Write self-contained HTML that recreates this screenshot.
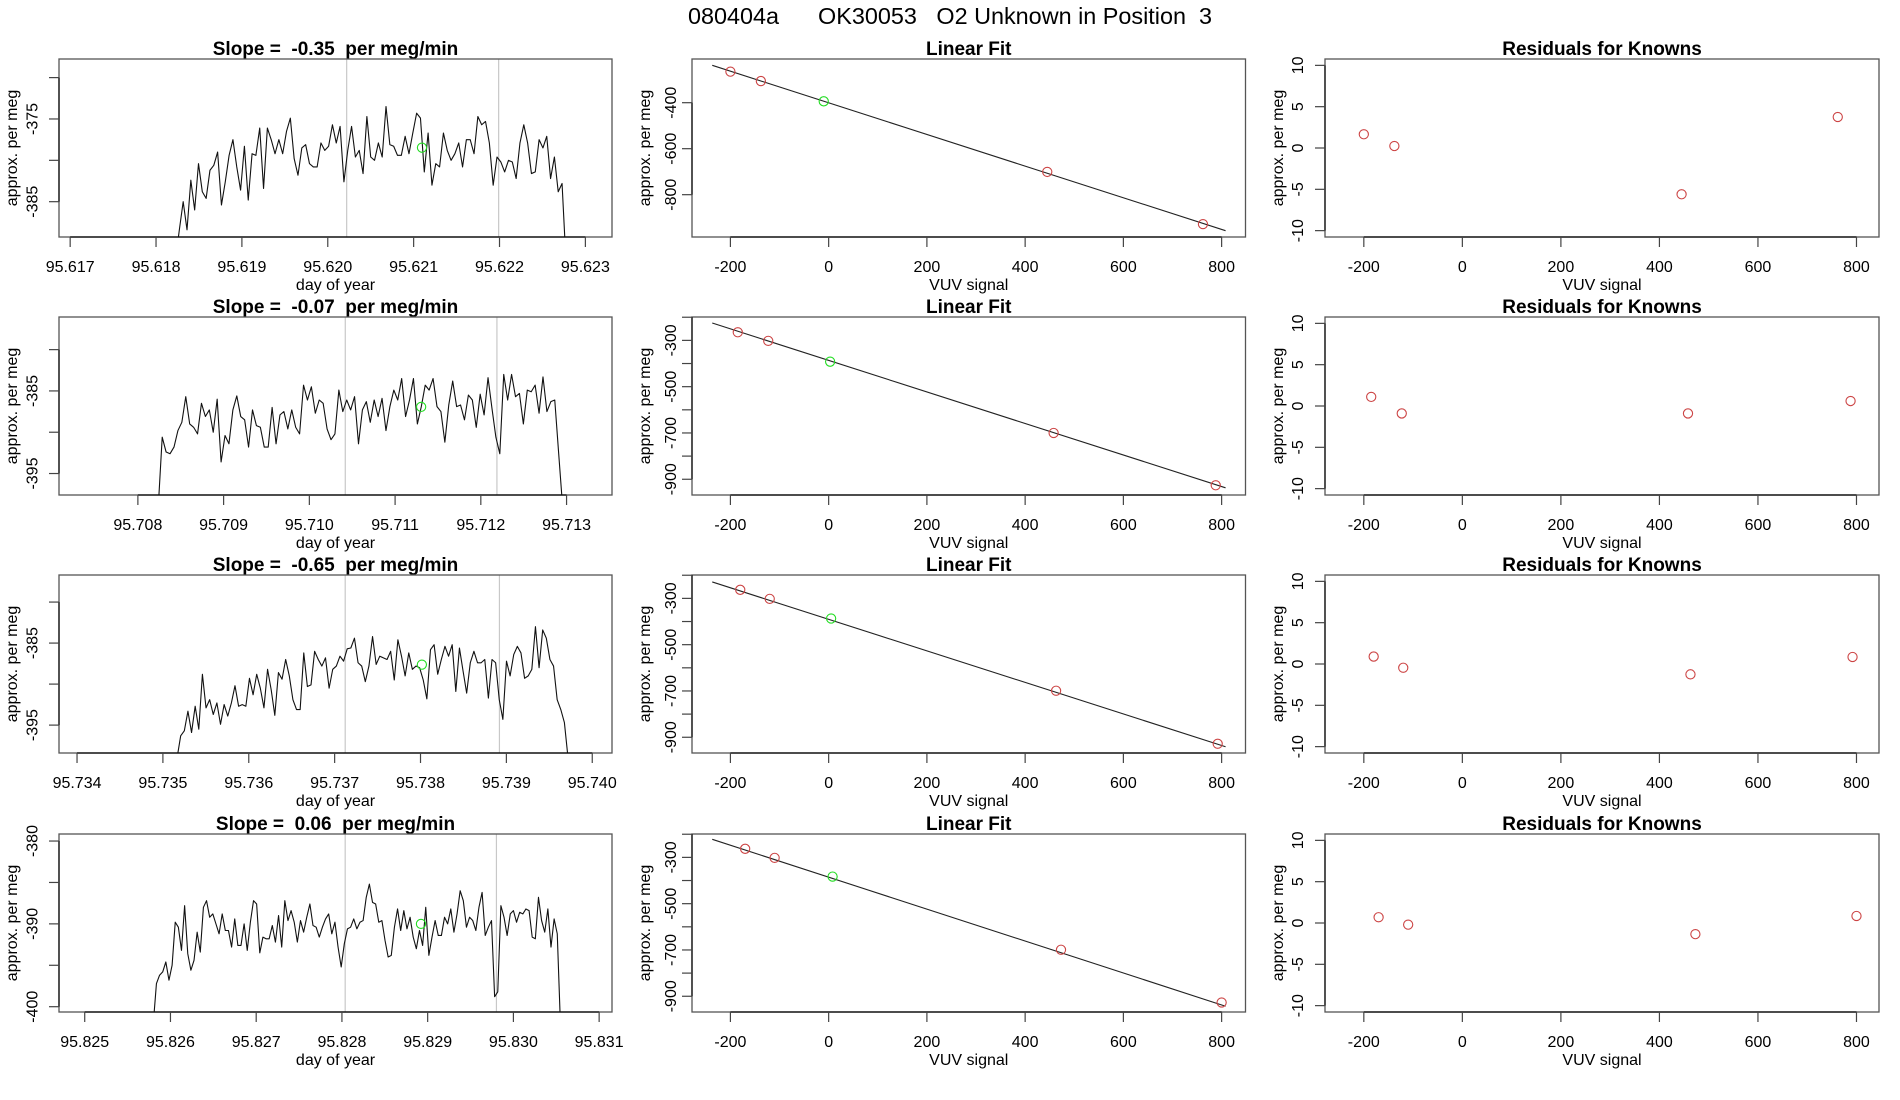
<!DOCTYPE html>
<html><head><meta charset="utf-8"><title>080404a OK30053 O2 Unknown in Position 3</title>
<style>
html,body{margin:0;padding:0;background:#fff;}
svg{display:block;font-family:"Liberation Sans",Arial,sans-serif;}
text{white-space:pre;}
</style></head>
<body>
<svg id="fig" width="1900" height="1100" viewBox="0 0 1900 1100" xmlns="http://www.w3.org/2000/svg">
<rect x="0" y="0" width="1900" height="1100" fill="#fff"/>
<text x="950" y="24" font-size="23.4" text-anchor="middle" fill="#000" xml:space="preserve">080404a      OK30053   O2 Unknown in Position  3</text>
</svg>
<script>
// ---------- time-series data (per meg) ----------
const tsTitles = ['Slope =  -0.35  per meg/min','Slope =  -0.07  per meg/min','Slope =  -0.65  per meg/min','Slope =  0.06  per meg/min'];
const tsXTicks1 = [95.617,95.618,95.619,95.620,95.621,95.622,95.623];
const tsXTicks2 = [95.708,95.709,95.710,95.711,95.712,95.713];
const tsXTicks3 = [95.734,95.735,95.736,95.737,95.738,95.739,95.740];
const tsXTicks4 = [95.825,95.826,95.827,95.828,95.829,95.830,95.831];
const tsYTicks1 = [-370,-375,-380,-385];
const tsYLabels1 = ['','-375','','-385'];
const tsYTicks2 = [-380,-385,-390,-395];
const tsYLabels2 = ['','-385','','-395'];
const tsYTicks3 = [-380,-385,-390,-395];
const tsYLabels3 = ['','-385','','-395'];
const tsYTicks4 = [-380,-385,-390,-395,-400];
const tsYLabels4 = ['-380','','-390','','-400'];
const tsXDomain1 = [95.61687,95.62331];
const tsXDomain2 = [95.70708,95.71353];
const tsXDomain3 = [95.73379,95.74023];
const tsXDomain4 = [95.82470,95.83115];
const tsYDomain1 = [-389.27,-367.75];
const tsYDomain2 = [-397.6,-376.05];
const tsYDomain3 = [-398.4,-376.7];
const tsYDomain4 = [-400.64,-379.15];
const tsRange1 = [95.618227,95.622773];
const tsRange2 = [95.708238,95.712954];
const tsRange3 = [95.735165,95.739718];
const tsRange4 = [95.825800,95.830548];
const tsMarks1 = [95.62022,95.62199];
const tsMarks2 = [95.710419,95.712188];
const tsMarks3 = [95.737123,95.738919];
const tsMarks4 = [95.828038,95.829802];
const tsUnknown1 = [95.621097,-378.47];
const tsUnknown2 = [95.711304,-386.93];
const tsUnknown3 = [95.738016,-387.63];
const tsUnknown4 = [95.828922,-390.0];
const tsVals1 = [-392,-388.4,-385.0,-388.4,-382.4,-386.0,-380.4,-383.8,-384.6,-381.2,-380.6,-379.0,-385.4,-382.6,-379.4,-377.5,-380.8,-383.6,-378.3,-384.8,-379.2,-379.4,-376.1,-383.4,-376.1,-377.5,-379.2,-377.5,-379.2,-376.5,-374.9,-379.8,-381.8,-378.5,-378.1,-380.4,-380.8,-380.8,-377.9,-378.8,-378.3,-375.7,-377.9,-375.9,-382.6,-378.8,-375.9,-379.6,-378.8,-381.6,-374.7,-379.6,-380.0,-377.9,-379.6,-373.5,-378.1,-378.3,-379.4,-379.4,-377.1,-379.2,-376.7,-374.3,-374.9,-381.4,-376.7,-383.0,-380.4,-380.8,-376.7,-378.8,-380.0,-379.2,-377.9,-380.8,-377.5,-377.5,-379.2,-374.7,-375.7,-375.3,-377.9,-383.0,-379.6,-380.2,-381.4,-380.0,-380.2,-382.2,-377.9,-375.7,-377.9,-381.6,-381.4,-377.5,-378.5,-377.1,-382.2,-379.6,-383.8,-382.8,-392];
const tsVals2 = [-399,-390.6,-392.4,-392.6,-391.8,-389.8,-388.8,-385.7,-389.0,-389.4,-390.2,-386.5,-388.1,-387.3,-390.0,-386.0,-393.6,-390.4,-391.4,-387.3,-385.6,-388.1,-388.5,-391.8,-387.3,-389.2,-389.4,-391.8,-391.8,-387.0,-391.4,-387.9,-387.5,-389.6,-387.3,-389.4,-390.2,-384.3,-386.1,-384.5,-387.7,-386.1,-386.5,-389.6,-390.9,-390.2,-384.9,-387.5,-386.1,-387.3,-385.7,-391.4,-387.3,-386.3,-388.8,-386.1,-388.1,-385.9,-389.8,-386.9,-384.9,-386.1,-383.5,-388.1,-386.1,-383.5,-389.0,-386.9,-384.3,-384.9,-383.5,-386.9,-387.5,-391.2,-386.7,-383.8,-386.9,-386.7,-388.5,-385.5,-386.1,-389.4,-385.4,-387.9,-383.4,-387.1,-390.6,-392.6,-383.0,-386.1,-383.0,-385.7,-385.3,-389.0,-384.9,-385.1,-384.3,-387.7,-383.3,-387.5,-386.3,-386.1,-392.6,-399];
const tsVals3 = [-399,-396.3,-395.7,-393.3,-395.9,-392.7,-395.5,-388.8,-392.9,-391.9,-393.7,-392.3,-394.9,-392.5,-393.9,-392.3,-390.2,-392.7,-392.5,-392.7,-389.3,-391.3,-388.8,-390.5,-392.9,-388.2,-390.7,-393.8,-388.6,-389.4,-387.0,-389.0,-391.9,-393.1,-393.1,-386.2,-390.3,-390.1,-386.0,-387.0,-387.8,-386.8,-390.5,-388.2,-387.8,-386.6,-387.2,-385.7,-385.6,-384.4,-387.4,-387.8,-389.7,-387.8,-384.2,-387.6,-386.6,-386.8,-387.0,-386.0,-389.5,-384.6,-386.6,-389.0,-386.2,-388.2,-387.8,-388.0,-389.5,-391.8,-385.8,-385.2,-388.8,-387.0,-385.4,-386.6,-385.2,-390.9,-385.6,-388.4,-391.1,-387.4,-386.0,-387.4,-387.4,-387.0,-391.7,-387.0,-387.4,-391.9,-394.3,-387.2,-389.0,-386.4,-385.4,-386.2,-389.3,-389.0,-388.2,-383.0,-388.0,-383.4,-384.4,-387.0,-387.8,-391.9,-393.1,-394.7,-399];
const tsVals4 = [-402,-397.2,-396.2,-395.8,-394.6,-396.8,-395.0,-389.8,-390.4,-393.2,-387.8,-393.6,-395.6,-394.4,-391.0,-393.4,-388.0,-387.2,-389.2,-388.8,-390.0,-391.2,-388.8,-390.8,-390.8,-392.8,-389.4,-392.6,-392.6,-390.0,-393.2,-389.8,-387.2,-387.6,-393.5,-391.6,-391.8,-391.8,-390.2,-392.2,-389.0,-392.8,-387.2,-389.6,-388.4,-389.8,-392.2,-389.6,-391.0,-389.2,-387.6,-390.2,-390.4,-391.6,-390.4,-389.4,-388.8,-391.2,-389.8,-392.8,-395.2,-392.4,-390.6,-390.4,-389.4,-390.6,-389.8,-389.6,-386.8,-385.2,-387.4,-387.6,-389.8,-389.6,-392.0,-394.0,-393.8,-390.4,-388.2,-390.8,-388.4,-390.6,-389.2,-391.6,-393.0,-390.8,-392.6,-388.0,-393.8,-391.6,-389.6,-391.4,-391.4,-389.2,-390.0,-388.2,-391.0,-388.8,-386.0,-387.2,-390.4,-389.2,-389.6,-390.8,-388.0,-386.2,-391.4,-390.4,-389.6,-398.8,-398.2,-387.8,-389.2,-391.4,-388.8,-388.4,-389.8,-388.6,-388.8,-388.2,-388.4,-391.6,-391.8,-386.8,-389.6,-391.0,-388.2,-392.8,-389.4,-391.2,-402];

// ---------- linear fit data ----------
const fitXTicks = [-200,0,200,400,600,800];
const fitYTicks1 = [-400,-600,-800];
const fitYLabels1 = ['-400','-600','-800'];
const fitYTicksB = [-200,-300,-400,-500,-600,-700,-800,-900];
const fitYLabelsB = ['','-300','','-500','','-700','','-900'];
const fitYDomain1 = [-984,-210];
const fitYDomainB = [-968,-199];
const fitXDomain = [-278.2,848.6];
const knownX1 = [-200,-138,445,762];
const knownY1 = [-265,-306,-701,-928];
const knownX2 = [-185,-123,458,788];
const knownY2 = [-265,-302,-700,-926];
const knownX3 = [-180,-120,463,792];
const knownY3 = [-263,-302,-699,-928];
const knownX4 = [-170,-110,473,800];
const knownY4 = [-263,-302,-699,-927];
const unkFit1 = [-10,-394];
const unkFit2 = [3,-392];
const unkFit3 = [5,-387];
const unkFit4 = [8,-383];
const fitLineX = [-237,808];
const fitLineY1 = [-237.4,-956.5];
const fitLineY2 = [-225,-937];
const fitLineY3 = [-229,-941];
const fitLineY4 = [-222,-943];

// ---------- residuals ----------
const resYTicks = [-10,-5,0,5,10];
const resYDomain = [-10.77,10.77];
const resXDomain = [-278.8,845.7];
const resid1 = [1.66,0.24,-5.6,3.75];
const resid2 = [1.1,-0.9,-0.9,0.6];
const resid3 = [0.9,-0.45,-1.25,0.85];
const resid4 = [0.7,-0.2,-1.35,0.85];

const svg = document.getElementById('fig');
const NS = 'http://www.w3.org/2000/svg';
const rowTops = [59,317,575,834];
const boxH = 178;
const cols = [{L:59,R:612,lab:27.5},{L:692,R:1245.5,lab:22},{L:1325,R:1879,lab:28}];

function mk(tag, attrs, parent){
  const e = document.createElementNS(NS, tag);
  for (const k in attrs) e.setAttribute(k, attrs[k]);
  (parent||svg).appendChild(e);
  return e;
}
function scale(d, r){ return v => r[0] + (v - d[0]) / (d[1] - d[0]) * (r[1] - r[0]); }

function panel(idx, col, row, o){
  const L = cols[col].L, R = cols[col].R, T = rowTops[row], B = T + boxH;
  const g = mk('g', {});
  
  
  const sx = scale(o.xd, [L, R]);
  const sy = scale(o.yd, [B, T]);
  const cid = 'clip' + idx;
  const cp = mk('clipPath', {id: cid}, g);
  mk('rect', {x: L, y: T, width: R - L, height: boxH}, cp);
  const t = mk('text', {x: (L + R) / 2, y: T - 4, 'font-size': 19, 'font-weight': 'bold', 'text-anchor': 'middle', 'xml:space': 'preserve'}, g);
  t.textContent = o.title;
  
  
  const inner = mk('g', {'clip-path': 'url(#' + cid + ')'}, g);
  o.draw(inner, sx, sy);
  const bx = mk('rect', {x: L, y: T, width: R - L, height: boxH, fill: 'none', stroke: '#555', 'stroke-width': 1.3}, g);
  
  
  const xa = mk('g', {}, g);
  
  
  const x0 = sx(o.xt[0]), x1 = sx(o.xt[o.xt.length - 1]);
  mk('line', {x1: x0, x2: x1, y1: B, y2: B, stroke: '#000', 'stroke-width': 1.2}, xa);
  o.xt.forEach((v, i) => {
    const x = sx(v);
    mk('line', {x1: x, x2: x, y1: B, y2: B + 10, stroke: '#444', 'stroke-width': 1.2}, xa);
    const lb = mk('text', {x: x, y: B + 35, 'font-size': 16, 'text-anchor': 'middle'}, xa);
    lb.textContent = o.xl ? o.xl[i] : String(v);
    
    
  });
  const xt = mk('text', {x: (L + R) / 2, y: B + 53, 'font-size': 16, 'text-anchor': 'middle'}, g);
  xt.textContent = o.xTitle;
  
  
  const ya = mk('g', {}, g);
  
  
  const yv = o.yt.map(sy);
  mk('line', {x1: L, x2: L, y1: Math.min(...yv), y2: Math.max(...yv), stroke: '#000', 'stroke-width': 1.2}, ya);
  o.yt.forEach((v, i) => {
    const y = sy(v);
    mk('line', {x1: L - 10, x2: L, y1: y, y2: y, stroke: '#444', 'stroke-width': 1.2}, ya);
    const txt = o.yl ? o.yl[i] : String(v);
    if (txt !== '') {
      const bl = L - cols[col].lab + 6;
      const lb = mk('text', {x: bl, y: y, 'font-size': 16, 'text-anchor': 'middle', transform: 'rotate(-90 ' + bl + ' ' + y + ')'}, ya);
      lb.textContent = txt;
      
      
    }
  });
  const tx = L - 42, ty = (T + B) / 2;
  const yt = mk('text', {x: tx, y: ty, 'font-size': 16, 'text-anchor': 'middle', transform: 'rotate(-90 ' + tx + ' ' + ty + ')'}, g);
  yt.textContent = 'approx. per meg';
  
  
}

function circle(parent, cx, cy, color, name){
  const c = mk('circle', {cx: cx, cy: cy, r: 4.6, fill: 'none', stroke: color, 'stroke-width': 1.1}, parent);
  
  
}

const tsSets = [
  [tsXDomain1, tsYDomain1, tsXTicks1, tsYTicks1, tsYLabels1, tsRange1, tsVals1, tsMarks1, tsUnknown1],
  [tsXDomain2, tsYDomain2, tsXTicks2, tsYTicks2, tsYLabels2, tsRange2, tsVals2, tsMarks2, tsUnknown2],
  [tsXDomain3, tsYDomain3, tsXTicks3, tsYTicks3, tsYLabels3, tsRange3, tsVals3, tsMarks3, tsUnknown3],
  [tsXDomain4, tsYDomain4, tsXTicks4, tsYTicks4, tsYLabels4, tsRange4, tsVals4, tsMarks4, tsUnknown4]
];
tsSets.forEach((s, r) => {
  panel('ts' + r, 0, r, {
    name: 'timeseries-panel-' + (r + 1), title: tsTitles[r], xTitle: 'day of year',
    xd: s[0], yd: s[1], xt: s[2], xl: s[2].map(v => v.toFixed(3)), yt: s[3], yl: s[4],
    draw: (g, sx, sy) => {
      s[7].forEach(m => {
        const ln = mk('line', {x1: sx(m), x2: sx(m), y1: rowTops[r], y2: rowTops[r] + boxH, stroke: '#c8c8c8', 'stroke-width': 1.2}, g);
        
        
      });
      const vals = s[6], n = vals.length;
      const pts = vals.map((v, i) => sx(s[5][0] + (s[5][1] - s[5][0]) * i / (n - 1)).toFixed(2) + ',' + sy(v).toFixed(2));
      const pl = mk('polyline', {points: pts.join(' '), fill: 'none', stroke: '#111', 'stroke-width': 1.1, 'stroke-linejoin': 'round'}, g);
      
      
      circle(g, sx(s[8][0]), sy(s[8][1]), '#22dd22', 'unknown-mean-point');
    }
  });
});

const fitSets = [
  [fitYDomain1, fitYTicks1, fitYLabels1, knownX1, knownY1, unkFit1, fitLineY1, resid1],
  [fitYDomainB, fitYTicksB, fitYLabelsB, knownX2, knownY2, unkFit2, fitLineY2, resid2],
  [fitYDomainB, fitYTicksB, fitYLabelsB, knownX3, knownY3, unkFit3, fitLineY3, resid3],
  [fitYDomainB, fitYTicksB, fitYLabelsB, knownX4, knownY4, unkFit4, fitLineY4, resid4]
];
fitSets.forEach((s, r) => {
  panel('fit' + r, 1, r, {
    name: 'linear-fit-panel-' + (r + 1), title: 'Linear Fit', xTitle: 'VUV signal',
    xd: fitXDomain, yd: s[0], xt: fitXTicks, yt: s[1], yl: s[2],
    draw: (g, sx, sy) => {
      const ln = mk('line', {x1: sx(fitLineX[0]), y1: sy(s[6][0]), x2: sx(fitLineX[1]), y2: sy(s[6][1]), stroke: '#222', 'stroke-width': 1.1}, g);
      
      
      s[3].forEach((x, i) => circle(g, sx(x), sy(s[4][i]), '#cc4444', 'known-standard-point'));
      circle(g, sx(s[5][0]), sy(s[5][1]), '#22dd22', 'unknown-point');
    }
  });
  panel('res' + r, 2, r, {
    name: 'residuals-panel-' + (r + 1), title: 'Residuals for Knowns', xTitle: 'VUV signal',
    xd: resXDomain, yd: resYDomain, xt: fitXTicks, yt: resYTicks,
    draw: (g, sx, sy) => {
      s[3].forEach((x, i) => circle(g, sx(x), sy(s[7][i]), '#cc4444', 'residual-point'));
    }
  });
});
</script>
</body></html>
